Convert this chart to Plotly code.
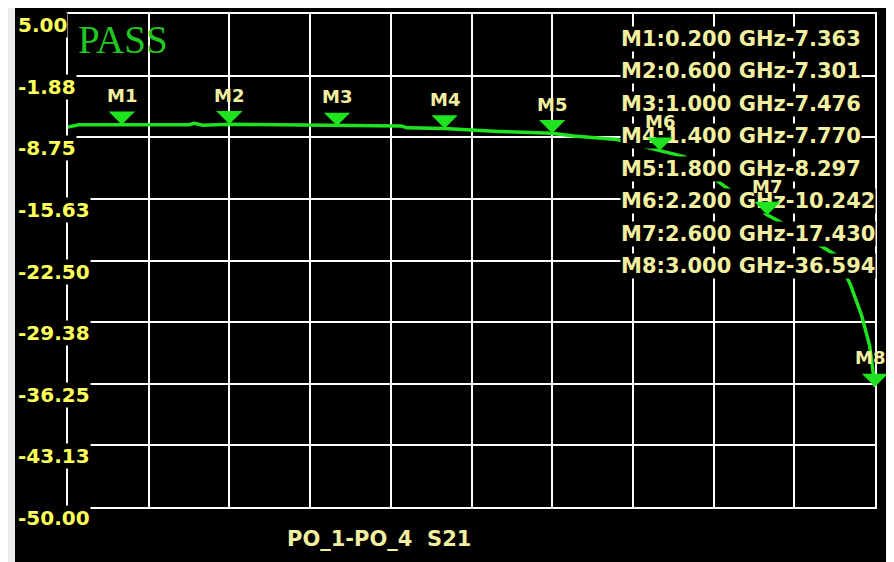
import plotly.graph_objects as go

# ---- data ----
trace_freq_ghz = [0.0, 0.04, 0.2, 0.45, 0.47, 0.5, 0.6, 1.0, 1.24, 1.26, 1.4, 1.6, 1.8, 1.88,
                  2.04, 2.2, 2.29, 2.44, 2.48, 2.6, 2.68, 2.86, 2.91, 2.95, 2.98, 3.0]
trace_s21_db = [-7.6, -7.35, -7.363, -7.35, -7.2, -7.4, -7.301, -7.476, -7.5, -7.7, -7.770, -8.1,
                -8.297, -8.6, -9.0, -10.242, -10.9, -14.2, -15.0, -17.43, -18.7, -22.0, -25.3,
                -28.6, -32.0, -36.594]

marker_names = ["M1", "M2", "M3", "M4", "M5", "M6", "M7", "M8"]
marker_freq_ghz = [0.2, 0.6, 1.0, 1.4, 1.8, 2.2, 2.6, 3.0]
marker_s21_db = [-7.363, -7.301, -7.476, -7.770, -8.297, -10.242, -17.430, -36.594]

x_grid_ticks = [0.0, 0.3, 0.6, 0.9, 1.2, 1.5, 1.8, 2.1, 2.4, 2.7, 3.0]
y_tick_values = [5.0, -1.875, -8.75, -15.625, -22.5, -29.375, -36.25, -43.125, -50.0]
y_tick_labels = ["5.00", "-1.88", "-8.75", "-15.63", "-22.50", "-29.38", "-36.25", "-43.13", "-50.00"]

trace_title = "PO_1-PO_4\u00a0\u00a0S21"
status_text = "PASS"

# ---- layout geometry (pixels); page body has an 8px margin ----
OFF = 8
W, H = 894 - OFF, 562 - OFF
L, R, T, B = 68 - OFF, 19, 12 - OFF, 55
PW, PH = W - L - R, H - T - B


def px_x(px):  # px given in window coordinates
    return (px - OFF - L) / PW


def px_y(py):
    return (H - B - (py - OFF)) / PH


GREEN = "#1ee31e"
YEL = "#ffff5a"
PALE = "#f2f0a0"

fig = go.Figure()
fig.add_trace(go.Scatter(x=trace_freq_ghz, y=trace_s21_db, mode="lines",
                         line=dict(color=GREEN, width=3.5), hoverinfo="skip",
                         showlegend=False))

annotations = []

# marker read-out table (opaque rows, drawn first so markers sit on top)
for i, (name, f, v) in enumerate(zip(marker_names, marker_freq_ghz, marker_s21_db)):
    annotations.append(dict(x=px_x(620), y=px_y(37 + 32.6 * i), xref="paper", yref="paper",
                            text=f"{name}:{f:.3f} GHz{v:.3f}", showarrow=False,
                            xanchor="left", yanchor="middle", bgcolor="black", borderpad=0,
                            font=dict(family="DejaVu Sans", size=21, color=PALE,
                                      weight="bold")))

# marker triangles (tip on the trace) and their labels
last = len(marker_names) - 1
for i, (name, f, v) in enumerate(zip(marker_names, marker_freq_ghz, marker_s21_db)):
    annotations.append(dict(x=f, y=v, xref="x", yref="y", text="", showarrow=True,
                            ax=0, ay=-12, axref="pixel", ayref="pixel",
                            arrowhead=1, arrowsize=2.0, arrowwidth=2.2, arrowcolor=GREEN,
                            standoff=0, startstandoff=0))
    annotations.append(dict(x=f, y=v, xref="x", yref="y", text=name, showarrow=False,
                            yshift=29, xshift=(-5 if i == last else 0),
                            font=dict(family="DejaVu Sans", size=18, color=PALE,
                                      weight="bold"),
                            xanchor="center", yanchor="middle"))

# y tick labels (left aligned, below grid lines)
for val, lab in zip(y_tick_values, y_tick_labels):
    annotations.append(dict(x=px_x(17), y=val, xref="paper", yref="y", text=lab,
                            showarrow=False, xanchor="left", yanchor="middle", yshift=-11,
                            bgcolor="black", borderpad=0,
                            font=dict(family="DejaVu Sans", size=20, color=YEL,
                                      weight="bold")))

annotations.append(dict(x=px_x(76), y=px_y(38), xref="paper", yref="paper", text=status_text,
                        showarrow=False, xanchor="left", yanchor="middle",
                        font=dict(family="Liberation Serif", size=39, color="#22c822")))
annotations.append(dict(x=px_x(285), y=px_y(539), xref="paper", yref="paper", text=trace_title,
                        showarrow=False, xanchor="left", yanchor="middle",
                        font=dict(family="DejaVu Sans", size=21, color=PALE, weight="bold")))

shapes = [
    dict(type="rect", xref="paper", yref="paper", x0=px_x(15), x1=px_x(900),
         y0=px_y(570), y1=px_y(6), fillcolor="black", line=dict(width=0), layer="below"),
    dict(type="rect", xref="paper", yref="paper", x0=px_x(0), x1=px_x(15),
         y0=px_y(570), y1=px_y(6), fillcolor="#ececec", line=dict(width=0), layer="below"),
]

fig.update_layout(
    width=W, height=H,
    margin=dict(l=L, r=R, t=T, b=B),
    paper_bgcolor="white", plot_bgcolor="black",
    annotations=annotations, shapes=shapes,
    xaxis=dict(range=[0, 3.0], tickvals=x_grid_ticks, showticklabels=False, ticks="",
               showgrid=True, gridcolor="white", gridwidth=2, zeroline=False,
               showline=True, mirror=True, linecolor="white", linewidth=2),
    yaxis=dict(range=[-50, 5], tickvals=y_tick_values, showticklabels=False, ticks="",
               showgrid=True, gridcolor="white", gridwidth=2, zeroline=False,
               showline=True, mirror=True, linecolor="white", linewidth=2),
)

fig.write_html("out.html")
